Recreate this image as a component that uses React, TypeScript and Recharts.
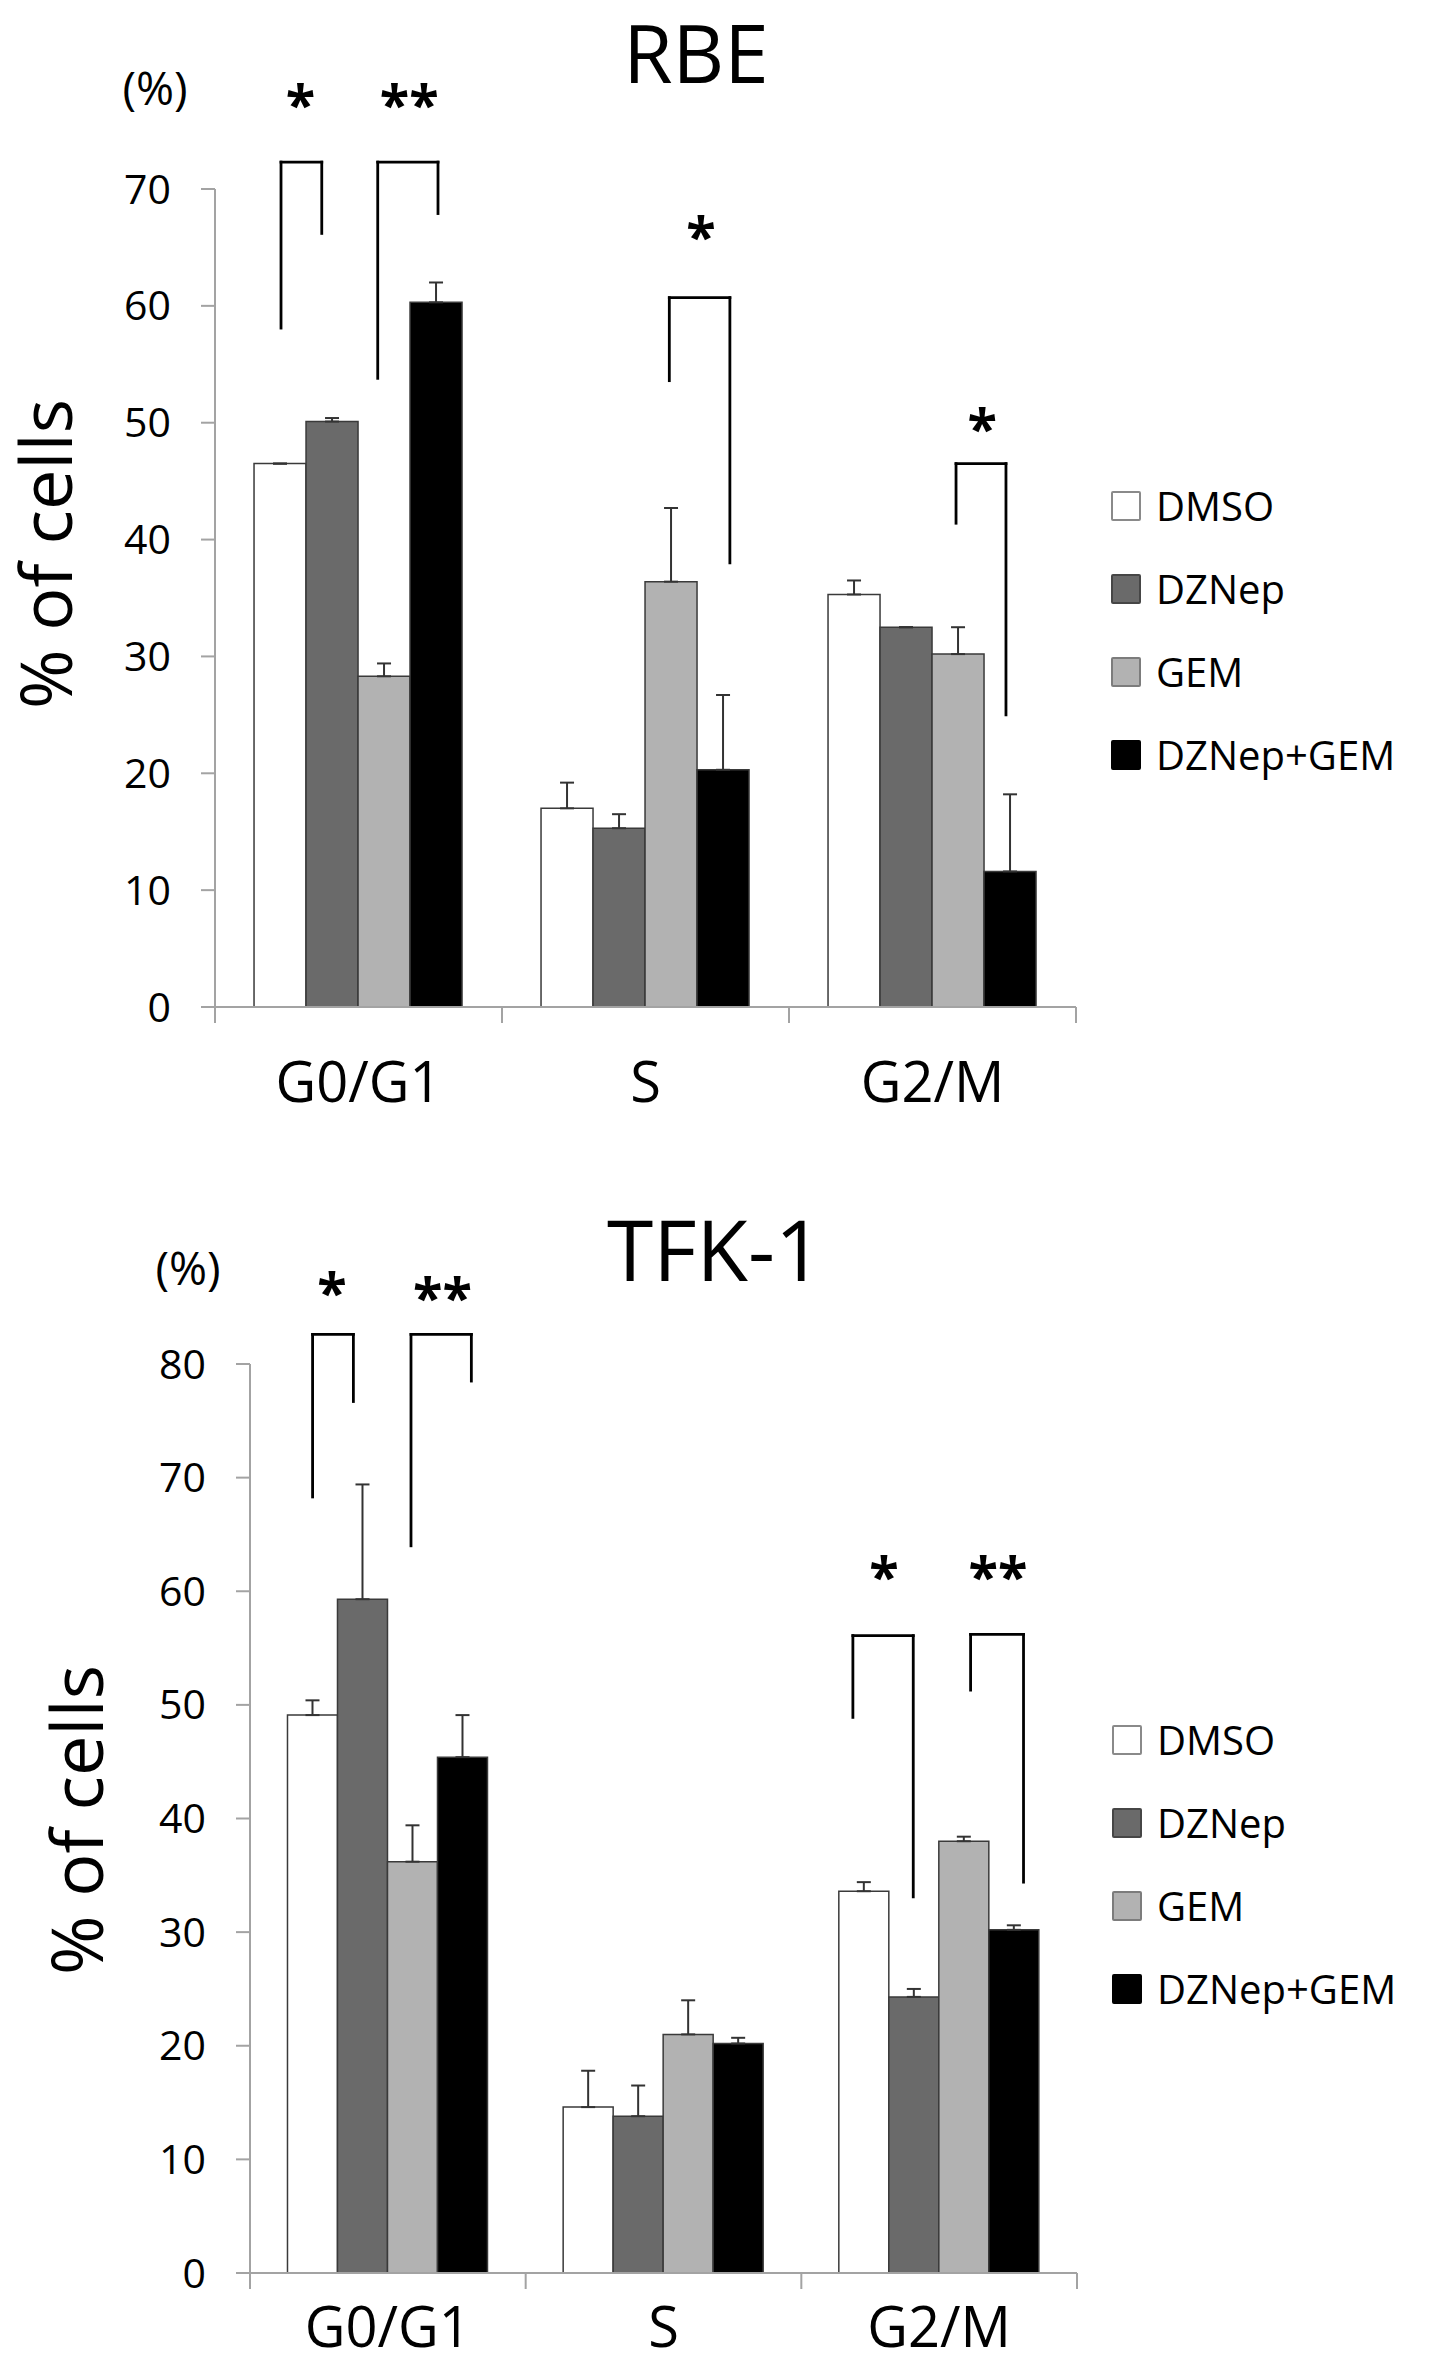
import React from 'react';
import {
  ComposedChart,
  Bar,
  XAxis,
  YAxis,
  ErrorBar,
  ReferenceLine,
  ReferenceDot,
  Legend,
} from 'recharts';

const FONT = '"Open Sans", "Noto Sans", sans-serif';
const AXIS = '#a3a3a3';

// ---------- data ----------
const categories = ['G0/G1', 'S', 'G2/M'];
const seriesNames = ['DMSO', 'DZNep', 'GEM', 'DZNep+GEM'];
const seriesFills = ['#ffffff', '#6a6a6a', '#b2b2b2', '#000000'];
const legendBorders = ['#8a8a8a', '#464646', '#7c7c7c', '#000000'];

// RBE
const rbeDMSO = [46.5, 17.0, 35.3];
const rbeDZNep = [50.1, 15.3, 32.5];
const rbeGEM = [28.3, 36.4, 30.2];
const rbeCombo = [60.3, 20.3, 11.6];
const rbeDMSOErr = [0.0, 2.2, 1.2];
const rbeDZNepErr = [0.3, 1.2, 0.0];
const rbeGEMErr = [1.1, 6.3, 2.3];
const rbeComboErr = [1.7, 6.4, 6.6];
const rbeTicks = [0, 10, 20, 30, 40, 50, 60, 70];

// TFK-1
const tfkDMSO = [49.1, 14.6, 33.6];
const tfkDZNep = [59.3, 13.8, 24.3];
const tfkGEM = [36.2, 21.0, 38.0];
const tfkCombo = [45.4, 20.2, 30.2];
const tfkDMSOErr = [1.3, 3.2, 0.8];
const tfkDZNepErr = [10.1, 2.7, 0.7];
const tfkGEMErr = [3.2, 3.0, 0.4];
const tfkComboErr = [3.7, 0.5, 0.4];
const tfkTicks = [0, 10, 20, 30, 40, 50, 60, 70, 80];

// significance brackets: [xLeft, xRight, yLeftEnd, yTop, yRightEnd] (x in category units)
const rbeBrackets = [
  [0.23, 0.372, 58.1, 72.3, 66.2],
  [0.567, 0.777, 53.8, 72.3, 67.9],
  [1.583, 1.794, 53.6, 60.7, 38.0],
  [2.582, 2.756, 41.4, 46.5, 25.0],
];
const rbeStars: [number, number, string][] = [
  [0.298, 78.1, '*'],
  [0.677, 78.1, '**'],
  [1.693, 66.8, '*'],
  [2.673, 50.4, '*'],
];
const tfkBrackets = [
  [0.227, 0.375, 68.3, 82.6, 76.7],
  [0.584, 0.803, 64.0, 82.6, 78.5],
  [2.187, 2.406, 48.9, 56.1, 33.1],
  [2.614, 2.806, 51.3, 56.2, 34.4],
];
const tfkStars: [number, number, string][] = [
  [0.297, 87.2, '*'],
  [0.698, 86.8, '**'],
  [2.3, 62.2, '*'],
  [2.713, 62.2, '**'],
];

const buildRows = (vals: number[][], errs: number[][]) =>
  categories.map((phase, c) => {
    const row: any = { phase, pos: c + 0.5 };
    vals.forEach((v, i) => {
      row[`s${i}`] = v[c];
      row[`e${i}`] = [0, errs[i][c]];
    });
    return row;
  });

const rbeRows = buildRows(
  [rbeDMSO, rbeDZNep, rbeGEM, rbeCombo],
  [rbeDMSOErr, rbeDZNepErr, rbeGEMErr, rbeComboErr]
);
const tfkRows = buildRows(
  [tfkDMSO, tfkDZNep, tfkGEM, tfkCombo],
  [tfkDMSOErr, tfkDZNepErr, tfkGEMErr, tfkComboErr]
);

const xTickValues = [0, 0.5, 1, 1.5, 2, 2.5, 3];

const makeXTick = (labelDy: number) => (props: any) => {
  const { x, y, payload } = props;
  const v = payload.value;
  if (Number.isInteger(v)) {
    return <line x1={x} x2={x} y1={y} y2={y + 16} stroke={AXIS} strokeWidth={2} />;
  }
  return (
    <text x={x} y={y + labelDy} textAnchor="middle" fontSize={56} fontFamily={FONT} fill="#000">
      {categories[Math.floor(v)]}
    </text>
  );
};

const LegendContent = () => (
  <div style={{ fontFamily: FONT, fontSize: 40, color: '#000' }}>
    {seriesNames.map((name, idx) => (
      <div key={name} style={{ display: 'flex', alignItems: 'center', height: 83 }}>
        <span
          style={{
            display: 'inline-block',
            width: 26,
            height: 26,
            background: seriesFills[idx],
            border: `2px solid ${legendBorders[idx]}`,
            borderRadius: 2,
          }}
        />
        <span style={{ marginLeft: 15, lineHeight: '83px' }}>{name}</span>
      </div>
    ))}
  </div>
);

type PanelProps = {
  rows: any[];
  ticks: number[];
  brackets: number[][];
  stars: [number, number, string][];
  width: number;
  height: number;
  margin: { top: number; right: number; bottom: number; left: number };
  legendLeft: number;
  legendTop: number;
  labelDy: number;
};

const Panel = (p: PanelProps) => (
  <ComposedChart
    width={p.width}
    height={p.height}
    data={p.rows}
    margin={p.margin}
    barCategoryGap="13.6%"
    barGap={0}
  >
    <XAxis
      xAxisId="n"
      dataKey="pos"
      type="number"
      domain={[0, 3]}
      allowDataOverflow
      ticks={xTickValues}
      interval={0}
      height={70}
      tickSize={0}
      tickMargin={0}
      tickLine={false}
      axisLine={{ stroke: AXIS, strokeWidth: 2 }}
      tick={makeXTick(p.labelDy)}
    />
    <XAxis xAxisId="c" dataKey="phase" type="category" hide height={0} />
    <YAxis
      type="number"
      domain={[0, p.ticks[p.ticks.length - 1]]}
      ticks={p.ticks}
      interval={0}
      width={100}
      tickSize={14}
      tickMargin={30}
      axisLine={{ stroke: AXIS, strokeWidth: 2 }}
      tickLine={{ stroke: AXIS, strokeWidth: 2 }}
      tick={{ fontSize: 41, fill: '#000', fontFamily: FONT }}
    />
    {seriesNames.map((name, i) => (
      <Bar
        key={name}
        xAxisId="c"
        dataKey={`s${i}`}
        name={name}
        fill={seriesFills[i]}
        stroke="#3a3a3a"
        strokeWidth={1.5}
        isAnimationActive={false}
      >
        <ErrorBar
          dataKey={`e${i}`}
          direction="y"
          width={7}
          stroke="#333"
          strokeWidth={2}
          isAnimationActive={false}
        />
      </Bar>
    ))}
    {p.brackets.flatMap((b, k) => {
      const [x1, x2, yl, yt, yr] = b;
      const segs = [
        [{ x: x1, y: yl }, { x: x1, y: yt }],
        [{ x: x1, y: yt }, { x: x2, y: yt }],
        [{ x: x2, y: yt }, { x: x2, y: yr }],
      ];
      return segs.map((s, j) => (
        <ReferenceLine
          key={`b${k}-${j}`}
          xAxisId="n"
          segment={s as any}
          stroke="#000"
          strokeWidth={2.8}
          strokeLinecap="square"
          ifOverflow="visible"
        />
      ));
    })}
    {p.stars.map((s, k) => (
      <ReferenceDot
        key={`st${k}`}
        xAxisId="n"
        x={s[0]}
        y={s[1]}
        r={0}
        ifOverflow="visible"
        shape={(sp: any) => (
          <text
            x={sp.cx}
            y={sp.cy + 30}
            textAnchor="middle"
            fontSize={54}
            fontWeight="bold"
            fontFamily={FONT}
            fill="#000"
          >
            {s[2]}
          </text>
        )}
      />
    ))}
    <Legend
      layout="horizontal"
      verticalAlign="middle"
      align="center"
      content={LegendContent}
      wrapperStyle={{ left: p.legendLeft, top: p.legendTop, width: 330, height: 332 }}
    />
  </ComposedChart>
);

export default function App() {
  const W = 1433;
  return (
    <div style={{ position: 'relative', width: W, height: 2360, background: '#fff', fontFamily: FONT }}>
      <div style={{ position: 'absolute', left: 0, top: 0 }}>
        <Panel
          rows={rbeRows}
          ticks={rbeTicks}
          brackets={rbeBrackets}
          stars={rbeStars}
          width={W}
          height={1150}
          margin={{ top: 181, right: 365, bottom: 81, left: 107 }}
          legendLeft={1103}
          legendTop={456}
          labelDy={95}
        />
      </div>
      <div style={{ position: 'absolute', left: 0, top: 1150 }}>
        <Panel
          rows={tfkRows}
          ticks={tfkTicks}
          brackets={tfkBrackets}
          stars={tfkStars}
          width={W}
          height={1210}
          margin={{ top: 206, right: 364, bottom: 25, left: 142 }}
          legendLeft={1104}
          legendTop={540}
          labelDy={74}
        />
      </div>
      <svg
        width={W}
        height={2360}
        style={{ position: 'absolute', left: 0, top: 0, pointerEvents: 'none' }}
      >
        <g fontFamily={FONT} fill="#000">
          <text x={688} y={75} fontSize={80} textAnchor="middle">RBE</text>
          <text x={147} y={97} fontSize={46} textAnchor="middle">(%)</text>
          <text x={64} y={546} fontSize={72} textAnchor="middle" transform="rotate(-90 64 546)">
            % of cells
          </text>
          <text x={707} y={1273} fontSize={84} textAnchor="middle">TFK-1</text>
          <text x={180} y={1277} fontSize={46} textAnchor="middle">(%)</text>
          <text x={95} y={1812} fontSize={72} textAnchor="middle" transform="rotate(-90 95 1812)">
            % of cells
          </text>
        </g>
      </svg>
    </div>
  );
}
